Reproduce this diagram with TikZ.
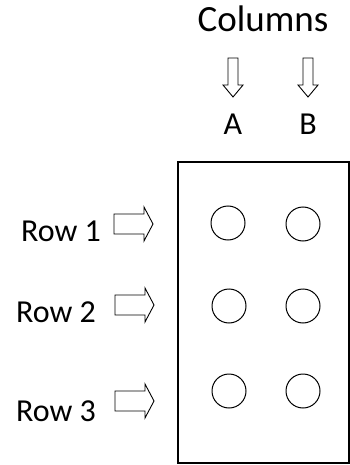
\documentclass[tikz,border=0pt]{standalone}
\usepackage{fontspec}
\setmainfont{Carlito}
\usepackage{tikz}
\usetikzlibrary{positioning}
\tikzset{%
	lbl/.style    = {inner sep=0pt, anchor=base, font=\fontsize{32}{36}\selectfont},
	well/.style   = {draw, circle, line width=1pt, minimum size=34pt, inner sep=0pt},
	rowarrow/.pic = {\draw[line width=0.9pt] (0,-10) -- (30,-10) -- (30,-17) -- (39,0) -- (30,17) -- (30,10) -- (0,10) -- cycle;},
	colarrow/.pic = {\draw[line width=0.9pt] (-5,0) -- (-5,27) -- (-10,27) -- (0,39) -- (10,27) -- (5,27) -- (5,0) -- cycle;},
}
\begin{document}
\begin{tikzpicture}[x=1pt,y=-1pt]
	\useasboundingbox (0,0) rectangle (350,465);
	\draw[line width=1.5pt] (178,162) rectangle (349,463);  % plate
	
	\node[lbl, font=\fontsize{37}{40}\selectfont] (cols) at (263,32) {Columns};
	\node[lbl] (colA) at (233,135) {A};
	\node[lbl] (colB) at (308,135) {B};
	\pic at (233,58) {colarrow};
	\pic at (308,58) {colarrow};
	
	\node[lbl] (row1) at (61,241) {Row 1};
	\node[lbl] (row2) at (56,322) {Row 2};
	\node[lbl] (row3) at (56,421) {Row 3};
	\pic at (114,224) {rowarrow};
	\pic at (115,305) {rowarrow};
	\pic at (115,401) {rowarrow};
	
	\node[well] (a1) at (228,223) {};
	\node[well] (b1) at (303,224) {};
	\node[well] (a2) at (229,306) {};
	\node[well] (b2) at (303,306) {};
	\node[well] (a3) at (229,391) {};
	\node[well] (b3) at (303,391) {};
	%	\node[well] (c1) at (378,223) {};
\end{tikzpicture}
\end{document}
